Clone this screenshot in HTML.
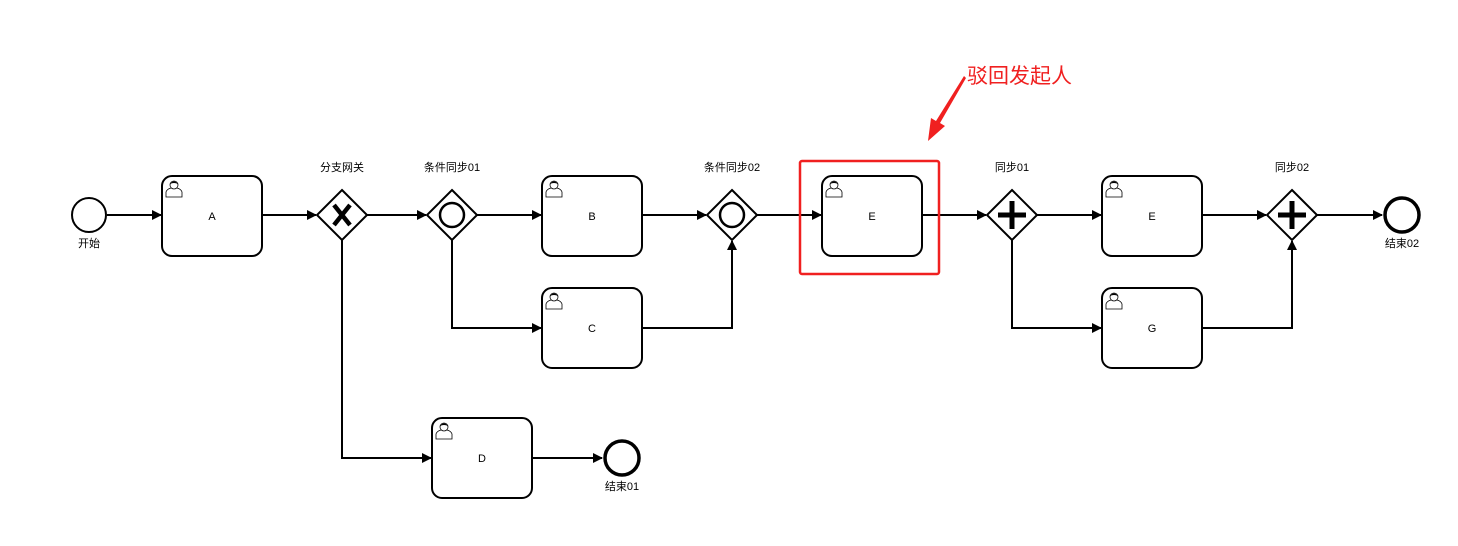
<!DOCTYPE html>
<html><head><meta charset="utf-8"><style>
html,body{margin:0;padding:0;background:#fff;}
svg{display:block;font-family:"Liberation Sans","Noto Sans CJK SC",sans-serif;}
</style></head><body>
<svg width="1458" height="546" viewBox="0 0 1458 546" xmlns="http://www.w3.org/2000/svg">
<defs>
<marker id="ar" markerWidth="10" markerHeight="10" refX="9" refY="5" orient="auto" markerUnits="userSpaceOnUse">
<path d="M0,0 L10,5 L0,10 Z" fill="#000"/></marker>
<g id="usr">
<path d="M2,18 L2,13 Q3,10 7,9 L13,9 Q17,10 18,13 L18,18 Z" fill="#fff" stroke="#000" stroke-width="0.8"/>
<circle cx="10" cy="6" r="4" fill="#fff" stroke="#000" stroke-width="0.8"/>
<path d="M6,5 Q10,0 14,5 Q10,3 6,5Z" fill="#000"/>
</g>
</defs>
<g fill="none" stroke="#000" stroke-width="2">
<line x1="107" y1="215" x2="161" y2="215" marker-end="url(#ar)"/>
<line x1="262" y1="215" x2="316" y2="215" marker-end="url(#ar)"/>
<line x1="367" y1="215" x2="426" y2="215" marker-end="url(#ar)"/>
<line x1="477" y1="215" x2="541" y2="215" marker-end="url(#ar)"/>
<polyline points="452,240 452,328 541,328" marker-end="url(#ar)"/>
<line x1="642" y1="215" x2="706" y2="215" marker-end="url(#ar)"/>
<polyline points="642,328 732,328 732,241" marker-end="url(#ar)"/>
<line x1="757" y1="215" x2="821" y2="215" marker-end="url(#ar)"/>
<line x1="922" y1="215" x2="986" y2="215" marker-end="url(#ar)"/>
<line x1="1037" y1="215" x2="1101" y2="215" marker-end="url(#ar)"/>
<polyline points="1012,240 1012,328 1101,328" marker-end="url(#ar)"/>
<line x1="1202" y1="215" x2="1266" y2="215" marker-end="url(#ar)"/>
<polyline points="1202,328 1292,328 1292,241" marker-end="url(#ar)"/>
<line x1="1317" y1="215" x2="1382" y2="215" marker-end="url(#ar)"/>
<polyline points="342,240 342,458 431,458" marker-end="url(#ar)"/>
<line x1="532" y1="458" x2="602" y2="458" marker-end="url(#ar)"/>
<circle cx="89" cy="215" r="17" fill="#fff"/>
<circle cx="1402" cy="215" r="17" fill="#fff" stroke-width="3.5"/>
<circle cx="622" cy="458" r="17" fill="#fff" stroke-width="3.5"/>
<rect x="162" y="176" width="100" height="80" rx="10" fill="#fff"/>
<rect x="542" y="176" width="100" height="80" rx="10" fill="#fff"/>
<rect x="542" y="288" width="100" height="80" rx="10" fill="#fff"/>
<rect x="822" y="176" width="100" height="80" rx="10" fill="#fff"/>
<rect x="1102" y="176" width="100" height="80" rx="10" fill="#fff"/>
<rect x="1102" y="288" width="100" height="80" rx="10" fill="#fff"/>
<rect x="432" y="418" width="100" height="80" rx="10" fill="#fff"/>
<polygon points="342,190 367,215 342,240 317,215" fill="#fff"/>
<polygon points="452,190 477,215 452,240 427,215" fill="#fff"/>
<polygon points="732,190 757,215 732,240 707,215" fill="#fff"/>
<polygon points="1012,190 1037,215 1012,240 987,215" fill="#fff"/>
<polygon points="1292,190 1317,215 1292,240 1267,215" fill="#fff"/>
<circle cx="452" cy="215" r="12" stroke-width="2.5"/>
<circle cx="732" cy="215" r="12" stroke-width="2.5"/>
</g>
<path d="M334,205 L350,225 M350,205 L334,225" stroke="#000" stroke-width="4.5"/>
<path d="M1012,201 V229 M998,215 H1026" stroke="#000" stroke-width="5"/>
<path d="M1292,201 V229 M1278,215 H1306" stroke="#000" stroke-width="5"/>
<use href="#usr" x="164" y="179"/>
<use href="#usr" x="544" y="179"/>
<use href="#usr" x="544" y="291"/>
<use href="#usr" x="824" y="179"/>
<use href="#usr" x="1104" y="179"/>
<use href="#usr" x="1104" y="291"/>
<use href="#usr" x="434" y="421"/>
<g font-size="11" text-anchor="middle" fill="#000">
<text x="212" y="220">A</text>
<text x="592" y="220">B</text>
<text x="592" y="332">C</text>
<text x="872" y="220">E</text>
<text x="1152" y="220">E</text>
<text x="1152" y="332">G</text>
<text x="482" y="462">D</text>
<text x="342" y="171">分支网关</text>
<text x="452" y="171">条件同步01</text>
<text x="732" y="171">条件同步02</text>
<text x="1012" y="171">同步01</text>
<text x="1292" y="171">同步02</text>
<text x="89" y="247">开始</text>
<text x="622" y="490">结束01</text>
<text x="1402" y="247">结束02</text>
</g>
<rect x="800" y="161" width="139" height="113" rx="2" fill="none" stroke="#f02020" stroke-width="2.5"/>
<polygon points="964,76 966,78 940,123 945,126 928,141 931,118 936,121" fill="#f02020"/>
<text x="967" y="83" font-size="21" fill="#f02020">驳回发起人</text>
</svg>
</body></html>
